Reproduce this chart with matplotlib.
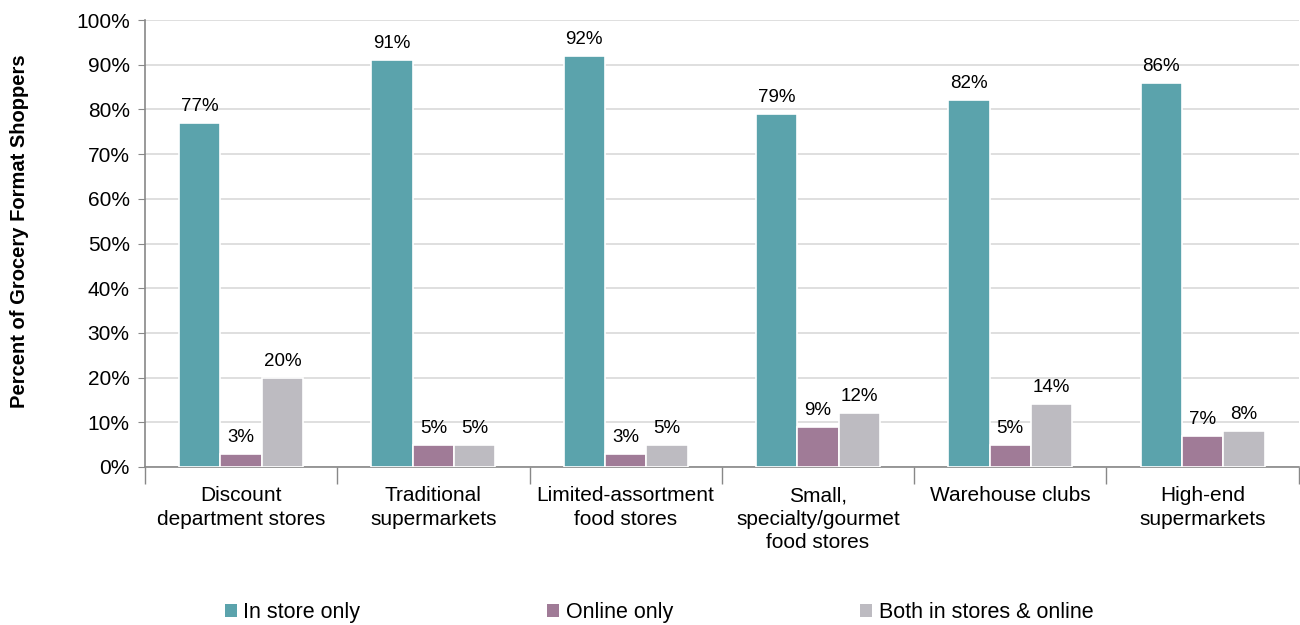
import numpy as np
import matplotlib.pyplot as plt
from matplotlib.patches import Patch
from matplotlib.ticker import PercentFormatter

plt.rcParams["font.family"] = ["Liberation Sans", "DejaVu Sans"]

categories = [
    "Discount\ndepartment stores",
    "Traditional\nsupermarkets",
    "Limited-assortment\nfood stores",
    "Small,\nspecialty/gourmet\nfood stores",
    "Warehouse clubs",
    "High-end\nsupermarkets",
]
in_store_only = [77, 91, 92, 79, 82, 86]
online_only = [3, 5, 3, 9, 5, 7]
both_channels = [20, 5, 5, 12, 14, 8]
series_names = ["In store only", "Online only", "Both in stores & online"]

colors = ["#5BA3AC", "#A07B97", "#BDBBC1"]

fig = plt.figure(figsize=(13, 6.25), dpi=100)
ax = fig.add_axes([0.1115, 0.2528, 0.8875, 0.7152])

x = np.arange(len(categories))
width = 0.215
series = [in_store_only, online_only, both_channels]

for i, (vals, color) in enumerate(zip(series, colors)):
    pos = x + (i - 1) * width
    bars = ax.bar(pos, vals, width, color=color, edgecolor="white",
                  linewidth=1.2, zorder=3)
    for b, v in zip(bars, vals):
        ax.text(b.get_x() + b.get_width() / 2, v + 1.8, f"{v}%",
                ha="center", va="bottom", fontsize=13.5, color="black")

ax.set_xlim(-0.5, len(categories) - 0.5)
ax.set_ylim(0, 100)
ax.set_yticks(np.arange(0, 101, 10))
ax.yaxis.set_major_formatter(PercentFormatter(decimals=0))
ax.grid(axis="y", color="#D9D9D9", linewidth=1.2, zorder=0)

# category labels centered, ticks at boundaries
ax.set_xticks(x)
ax.set_xticklabels(categories, fontsize=15, linespacing=1.3)
ax.tick_params(axis="x", length=0, pad=14)
ax.set_xticks(np.arange(len(categories) + 1) - 0.5, minor=True)
ax.tick_params(axis="x", which="minor", length=12, color="#888888", width=1)
ax.tick_params(axis="y", labelsize=15, length=5, color="#888888", pad=6)

for side in ["top", "right"]:
    ax.spines[side].set_visible(False)
for side in ["left", "bottom"]:
    ax.spines[side].set_color("#888888")
    ax.spines[side].set_linewidth(1.2)

fig.text(0.015, 0.63, "Percent of Grocery Format Shoppers", rotation=90,
         ha="center", va="center", fontsize=14.5, fontweight="bold")

handles = [Patch(facecolor=c, edgecolor="none") for c in colors]
fig.legend(handles, series_names, loc="center left",
           bbox_to_anchor=(0.158, 0.02), ncol=3, frameon=False,
           fontsize=15.5, handlelength=0.55, handleheight=0.55,
           handletextpad=0.3, columnspacing=8.7)

fig.savefig("out.png", dpi=100)
